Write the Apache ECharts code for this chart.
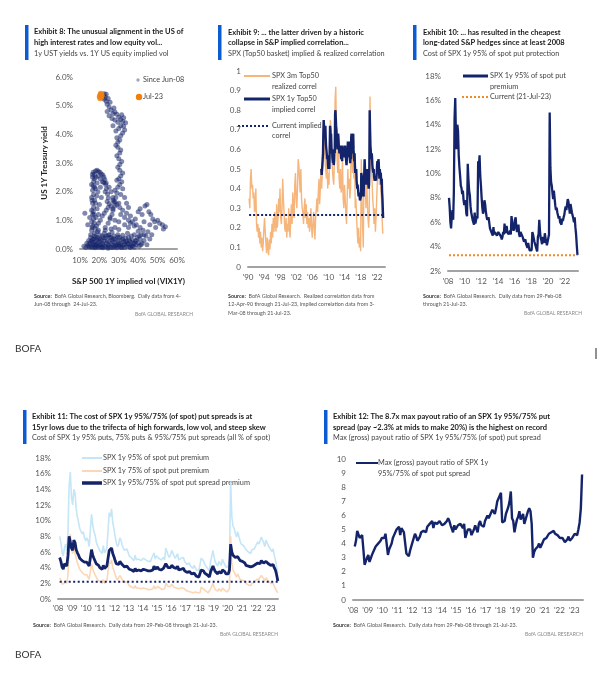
<!DOCTYPE html>
<html><head><meta charset="utf-8">
<script src="https://cdn.jsdelivr.net/npm/echarts@6/dist/echarts.min.js"></script>
<style>html,body{margin:0;padding:0;background:#fff}#c{width:607px;height:680px}</style>
</head><body><div id="c"></div><script>
// ---------- DATA ----------
// Exhibit 8: [S&P 500 1Y implied vol %, US 1Y Treasury yield %]
const SCATTER_SINCE_JUN08 = [
[12,0.1],[13,0.05],[13.5,0.2],[14,0.12],[14.5,0.3],[15,0.06],[15,0.18],[15.5,0.4],[16,0.1],[16,0.28],[16.5,0.05],[16.5,0.2],[17,0.14],[17,0.35],[17.5,0.08],[17.5,0.25],[18,0.04],[18,0.16],[18,0.42],[18.5,0.3],[19,0.08],[19,0.2],[19.5,0.35],[19.5,0.12],[20,0.05],[20,0.25],[20,0.5],[20.5,0.15],[21,0.08],[21,0.3],[21.5,0.2],[21.5,0.45],[22,0.04],[22,0.14],[22.5,0.28],[22.5,0.55],[23,0.1],[23,0.38],[23.5,0.2],[24,0.06],[24,0.3],[24.5,0.15],[24.5,0.48],[25,0.1],[25,0.25],[25.5,0.4],[26,0.05],[26,0.18],[26.5,0.32],[26.5,0.58],[27,0.12],[27,0.26],[27.5,0.45],[28,0.08],[28,0.2],[28.5,0.35],[29,0.04],[29,0.15],[29.5,0.28],[29.5,0.5],[30,0.1],[30,0.22],[30.5,0.4],[31,0.06],[31,0.18],[31.5,0.32],[32,0.12],[32,0.48],[32.5,0.25],[33,0.05],[33,0.16],[33.5,0.38],[34,0.1],[34,0.28],[34.5,0.55],[35,0.18],[35,0.4],[35.5,0.08],[36,0.25],[36.5,0.12],[36.5,0.45],[37,0.32],[37.5,0.18],[38,0.06],[38,0.5],[38.5,0.28],[39,0.15],[39.5,0.4],[40,0.22],[40,0.62],[40.5,0.1],[41,0.35],[41.5,0.5],[42,0.2],[42.5,0.65],[43,0.3],[44,0.45],[44.5,0.15],[45,0.6],[46,0.35],[47,0.5],[23,0.65],[26,0.7],[30,0.68],[35,0.75],[38,0.8],[28,0.75],[19.5,0.65],
[14.5,0.1],[15.5,0.25],[16.5,0.35],[17.5,0.45],[18.5,0.12],[19,0.4],[20.5,0.35],[21.5,0.06],[22,0.4],[23.5,0.45],[24.5,0.03],[25,0.5],[26,0.4],[27,0.05],[27.5,0.35],[28.5,0.12],[29.5,0.42],[30.5,0.15],[31.5,0.05],[32,0.35],[33.5,0.25],[34.5,0.18],[35.5,0.3],[36,0.05],[37,0.1],[38,0.2],[39,0.3],[40.5,0.45],[41.5,0.15],[43,0.5],
[15.5,0.5],[16,0.65],[16.5,0.8],[16,0.95],[17,1.05],[16.5,1.2],[16,1.35],[17,1.45],[16.5,1.6],[17.5,1.7],[16,1.8],[17,1.9],[16.5,2.05],[17.5,2.15],[16,2.25],[17,2.35],[16.5,2.5],[17.5,2.6],[16.8,2.68],[18,2.72],[18.8,2.75],[19.5,2.7],[20.3,2.68],[21,2.62],[21.8,2.58],[22.3,2.5],[22.8,2.42],[22.2,2.32],[23.2,2.25],[23.6,2.1],[23,2.0],[24.2,1.92],[24.6,1.78],[24,1.66],[25,1.58],[24.5,1.45],[23.5,1.35],[22.5,1.25],[21.5,1.15],[20.5,1.0],[19.5,0.9],[18.5,0.8],[17.8,0.72],[18.2,1.1],[18.8,1.4],[18,1.6],[18.6,1.85],[18,2.1],[18.8,2.3],[18.2,2.5],[19.5,2.55],[20.5,2.45],[19.5,1.2],[20,1.55],[21,1.8],[20.5,2.15],[21.5,2.35],[19.2,2.0],[17.5,0.55],[19,0.6],[12.5,1.25],[14,0.85],[15,1.1],
[16.2,0.75],[16.8,1.3],[16.2,1.7],[16.8,2.2],[16.4,2.6],[17.3,0.9],[17.4,2.45],[17.2,1.2],
[23.5,2.3],[25,2.15],[26,2.0],[25.5,1.1],[27,1.8],[28,1.65],[27,1.4],[29,1.55],[30.5,1.45],[31,1.2],[32,1.35],[33,1.1],[34,1.25],[35,1.0],[36,1.15],[37,0.95],[38.5,1.05],[40,1.3],[41,1.4],[42,1.2],[43.5,1.5],[44.5,1.55],[45.5,1.3],[46.5,1.2],[47.5,1.05],[48.5,0.95],[50,1.0],[51,0.9],[52.5,0.85],[54,0.78],[53,0.7],[49,0.75],[46,0.85],[43,0.95],[39,0.85],[36,0.9],[41,0.75],[30,0.95],[28,1.0],[33,0.85],
[23,0.75],[24.5,0.9],[25.5,1.05],[26.5,1.2],[27,1.35],[28,1.5],[27.5,1.65],[28.5,1.8],[29,1.95],[28,2.05],[29.5,2.15],[30.5,2.25],[31.5,2.35],[30,2.45],[31,2.55],[32,2.65],[30.5,2.75],[29.5,2.85],[30.5,2.95],[31.5,3.05],[30,3.15],[29,3.25],[30.5,3.35],[31,3.45],[29.5,3.55],[28.5,3.62],[29.5,3.72],[30.5,3.8],[29,3.88],[31,3.95],[32,4.05],[33,4.15],[32.5,4.28],[33.5,4.4],[32,4.45],[31,4.52],[30,4.6],[31.5,4.68],[32.5,4.58],[29,4.7],[28,4.78],[27,4.72],[26,4.85],[27.5,4.92],[25,4.95],[24,5.05],[25.5,5.12],[23.5,5.15],[24.5,5.25],[22.5,5.22],[23,5.3],[22,5.35],[21.5,5.28],[22.5,5.42],[23.5,5.4],[24,4.8],[25,4.65],[26.5,4.55],[28,4.5],[29.5,4.42],[27,4.3],[28.5,4.12],[30,4.2],[31,4.3],[26,1.5],[27,1.7],[29,2.4],[32,2.1],[33,1.8],[34,1.6],[35,1.45],[31,1.9],[30,1.6]
];
const SCATTER_JUL23 = [[20.2,5.32],[20.6,5.38],[21,5.3],[20.4,5.26],[21.2,5.36],[20.8,5.42]];

// Exhibit 9: realized correlation, every 2 months from Apr-90
const RC_START = 1990.28, RC_STEP = 1/6;
const REALIZED_CORREL = [
0.35,0.30,0.45,0.50,0.40,0.42, 0.35,0.38,0.28,0.30,0.40,0.22, 0.18,0.22,0.15,0.20,0.12,0.18,
0.10,0.15,0.08,0.12,0.20,0.25, 0.18,0.12,0.07,0.15,0.10,0.06, 0.14,0.09,0.18,0.12,0.22,0.15,
0.25,0.18,0.28,0.22,0.18,0.32, 0.20,0.25,0.35,0.28,0.40,0.25, 0.22,0.30,0.45,0.35,0.28,0.20,
0.18,0.25,0.15,0.22,0.18,0.30, 0.20,0.15,0.25,0.32,0.22,0.38, 0.30,0.25,0.42,0.48,0.35,0.30,
0.40,0.55,0.52,0.45,0.38,0.50, 0.35,0.30,0.28,0.22,0.30,0.35, 0.25,0.32,0.22,0.28,0.20,0.25,
0.18,0.22,0.30,0.20,0.15,0.22, 0.28,0.20,0.14,0.25,0.30,0.35, 0.28,0.38,0.45,0.32,0.40,0.50,
0.40,0.48,0.55,0.70,0.62,0.55, 0.50,0.45,0.55,0.40,0.48,0.42, 0.65,0.75,0.70,0.55,0.50,0.45,
0.42,0.55,0.85,0.92,0.70,0.55, 0.48,0.60,0.45,0.40,0.50,0.38, 0.40,0.55,0.35,0.30,0.42,0.35,
0.28,0.22,0.35,0.50,0.40,0.45, 0.35,0.40,0.65,0.55,0.48,0.60, 0.45,0.58,0.30,0.35,0.25,0.18,
0.12,0.20,0.10,0.15,0.08,0.55, 0.35,0.20,0.10,0.50,0.55,0.40, 0.30,0.45,0.35,0.25,0.20,0.30,
0.87,0.65,0.50,0.45,0.35,0.30, 0.22,0.30,0.18,0.25,0.35,0.45, 0.50,0.55,0.42,0.48,0.40,0.35,
0.25,0.17
];
// Exhibit 9: implied correlation, monthly from Mar-08
const IC_START = 2008.2, MONTH = 1/12;
const IMPLIED_CORREL = [
0.50,0.47,0.48,0.52,0.55,0.58,0.68,0.75,0.72,0.70,
0.68,0.70,0.72,0.66,0.62,0.60,0.58,0.55,0.57,0.55,0.52,0.50,
0.55,0.52,0.50,0.49,0.72,0.70,0.66,0.68,0.62,0.58,0.60,0.56,
0.55,0.53,0.58,0.52,0.54,0.60,0.58,0.78,0.80,0.76,0.72,0.70,
0.66,0.62,0.60,0.62,0.68,0.66,0.62,0.60,0.58,0.58,0.62,0.63,
0.58,0.55,0.56,0.57,0.54,0.62,0.58,0.60,0.58,0.57,0.56,0.55,
0.60,0.62,0.58,0.57,0.54,0.52,0.53,0.58,0.56,0.64,0.60,0.62,
0.64,0.60,0.58,0.55,0.53,0.58,0.55,0.66,0.68,0.62,0.58,0.60,
0.66,0.68,0.60,0.56,0.54,0.58,0.52,0.48,0.50,0.48,0.50,0.44,
0.42,0.40,0.42,0.40,0.38,0.36,0.35,0.38,0.36,0.34,0.33,0.35,
0.36,0.48,0.47,0.45,0.42,0.40,0.38,0.37,0.36,0.46,0.48,0.55,
0.50,0.46,0.44,0.42,0.48,0.46,0.43,0.50,0.48,0.45,0.42,0.40,
0.42,0.52,0.80,0.70,0.62,0.60,0.57,0.55,0.58,0.56,0.52,0.50,
0.50,0.48,0.50,0.46,0.47,0.44,0.45,0.43,0.46,0.44,0.46,0.48,
0.52,0.54,0.50,0.52,0.55,0.53,0.48,0.45,0.50,0.50,0.46,0.48,
0.45,0.42,0.45,0.38,0.35,0.30,0.25
];
const CURRENT_CORREL = 0.265;

// Exhibits 10-12: monthly from Feb-08 to Jul-23
const PUT_START = 2008.12;
const PUT95 = [
8.0,7.2,6.0,5.5,6.5,7.0,6.2,8.5,14.5,16.2,13.0,
12.0,14.0,13.5,11.5,10.5,9.8,9.0,8.8,8.3,8.6,7.8,7.4,
7.8,7.5,6.7,6.5,10.8,9.5,8.6,8.2,7.3,6.8,6.9,6.2,
6.0,5.8,6.8,5.9,6.0,6.5,6.3,11.0,10.5,11.5,9.8,9.0,
8.0,7.2,6.7,7.0,7.8,7.5,6.9,6.5,6.2,6.1,6.4,6.3,
5.5,5.4,5.2,5.1,4.9,5.6,5.0,5.2,5.1,5.3,4.9,4.9,
5.2,5.3,5.0,5.1,4.8,4.6,4.8,5.2,5.0,5.9,5.1,5.5,
5.7,5.2,5.3,5.0,4.9,5.3,5.0,6.5,6.6,5.6,5.3,5.6,
6.2,6.4,5.5,5.2,5.3,5.8,5.0,4.8,5.2,5.1,5.3,4.8,
4.6,4.4,4.5,4.6,4.2,4.1,3.9,4.3,4.0,3.7,3.6,3.6,
3.7,5.2,5.0,4.9,4.4,4.3,4.0,3.8,3.6,4.8,5.0,6.2,
5.3,4.7,4.5,4.2,4.8,4.6,4.3,5.1,4.7,4.6,4.1,4.0,
4.1,5.0,15.0,10.5,9.3,9.0,8.4,7.9,8.6,8.5,7.4,7.0,
7.2,6.8,6.9,6.3,6.5,6.0,6.1,5.8,6.3,6.1,6.4,6.6,
7.0,7.3,7.0,7.1,7.9,7.7,7.2,6.7,7.5,7.6,6.8,6.9,
6.3,6.0,6.4,5.6,5.0,4.1,3.3
];
const PUT95_CURRENT = 3.3;
const PUT75 = [
2.7,2.4,1.9,1.7,2.0,2.3,2.0,3.0,6.5,8.3,6.5,
5.8,6.5,6.3,5.2,4.6,4.2,3.8,3.6,3.4,3.5,3.1,2.9,
3.1,2.9,2.5,2.4,4.5,3.9,3.4,3.2,2.8,2.5,2.6,2.2,
2.1,2.0,2.5,2.0,2.1,2.3,2.2,4.8,4.5,5.0,4.0,3.6,
3.1,2.7,2.4,2.6,3.0,2.8,2.5,2.3,2.1,2.0,2.2,2.1,
1.7,1.6,1.5,1.5,1.4,1.7,1.4,1.5,1.4,1.5,1.3,1.3,
1.4,1.5,1.3,1.4,1.2,1.1,1.2,1.4,1.3,1.7,1.3,1.5,
1.6,1.4,1.4,1.3,1.2,1.4,1.3,2.0,2.1,1.6,1.4,1.6,
1.9,2.0,1.5,1.4,1.4,1.6,1.3,1.2,1.4,1.3,1.4,1.2,
1.1,1.0,1.0,1.1,0.9,0.9,0.8,1.0,0.9,0.8,0.8,0.8,
0.8,1.5,1.4,1.3,1.1,1.0,0.9,0.8,0.8,1.3,1.4,2.0,
1.5,1.2,1.1,1.0,1.3,1.2,1.0,1.4,1.2,1.1,0.9,0.9,
0.9,1.3,8.0,4.5,3.7,3.5,3.1,2.8,3.2,3.1,2.5,2.3,
2.4,2.2,2.3,2.0,2.1,1.8,1.9,1.7,2.0,1.9,2.1,2.2,
2.5,2.7,2.5,2.6,3.0,2.9,2.6,2.3,2.7,2.8,2.3,2.3,
2.0,1.8,2.0,1.6,1.3,1.0,0.8
];
const SPREAD = [
5.3,4.8,4.1,3.8,4.5,4.7,4.2,5.5,8.0,7.9,6.5,
6.2,7.5,7.2,6.3,5.9,5.6,5.2,5.2,4.9,5.1,4.7,4.5,
4.7,4.6,4.2,4.1,6.3,5.6,5.2,5.0,4.5,4.3,4.3,4.0,
3.9,3.8,4.3,3.9,3.9,4.2,4.1,6.2,6.0,6.5,5.8,5.4,
4.9,4.5,4.3,4.4,4.8,4.7,4.4,4.2,4.1,4.1,4.2,4.2,
3.8,3.8,3.7,3.6,3.5,3.9,3.6,3.7,3.7,3.8,3.6,3.6,
3.8,3.8,3.7,3.7,3.6,3.5,3.6,3.8,3.7,4.2,3.8,4.0,
4.1,3.8,3.9,3.7,3.7,3.9,3.7,4.5,4.5,4.0,3.9,4.0,
4.3,4.4,4.0,3.8,3.9,4.2,3.7,3.6,3.8,3.8,3.9,3.6,
3.5,3.4,3.5,3.5,3.3,3.2,3.1,3.3,3.1,2.9,2.8,2.8,
2.9,3.7,3.6,3.6,3.3,3.3,3.1,3.0,2.8,3.5,3.6,4.2,
3.8,3.5,3.4,3.2,3.5,3.4,3.3,3.7,3.5,3.5,3.2,3.1,
3.2,3.7,7.0,6.0,5.6,5.5,5.3,5.1,5.4,5.4,4.9,4.7,
4.8,4.6,4.6,4.3,4.4,4.2,4.2,4.1,4.3,4.2,4.3,4.4,
4.5,4.6,4.5,4.5,4.9,4.8,4.6,4.4,4.8,4.8,4.5,4.6,
4.3,4.2,4.4,4.0,3.7,3.1,2.3
];
const SPREAD_CURRENT = 2.2;
const PAYOUT = [
3.8,4.2,4.9,4.8,4.4,4.3,4.6,3.6,2.5,2.6,3.0,
3.2,2.7,2.8,3.2,3.4,3.6,3.8,3.8,4.0,3.9,4.2,4.4,
4.3,4.4,4.7,4.8,3.2,3.6,3.8,4.0,4.4,4.6,4.6,5.0,
5.1,5.2,4.6,5.1,5.1,4.8,4.9,3.3,3.4,3.1,3.5,3.8,
4.1,4.4,4.7,4.5,4.2,4.3,4.5,4.8,4.9,4.9,4.8,4.8,
5.2,5.3,5.4,5.5,5.6,5.1,5.5,5.4,5.4,5.3,5.6,5.6,
5.3,5.3,5.4,5.5,5.6,5.8,5.6,5.3,5.4,4.8,5.3,5.0,
4.9,5.3,5.2,5.4,5.4,5.1,5.4,4.4,4.5,5.0,5.1,5.0,
4.6,4.5,5.0,5.3,5.2,4.8,5.4,5.6,5.3,5.3,5.2,5.6,
5.8,6.0,5.8,5.8,6.2,6.4,6.5,6.1,6.5,7.0,7.2,7.3,
7.6,5.5,5.6,5.6,6.1,6.1,6.6,7.0,7.7,5.8,5.6,4.8,
5.3,5.7,5.9,6.3,5.7,5.9,6.1,5.4,5.7,5.7,6.3,6.5,
6.3,5.4,3.0,3.4,3.6,3.7,3.8,4.0,3.7,3.7,4.1,4.3,
4.2,4.4,4.4,4.7,4.6,4.8,4.8,4.9,4.7,4.8,4.6,4.5,
4.4,4.3,4.4,4.4,4.1,4.2,4.3,4.5,4.2,4.2,4.4,4.4,
4.7,4.8,4.6,5.0,5.5,6.5,8.9
];
const YEARS_EX9 = [1990,1994,1998,2002,2006,2010,2014,2018,2022];
const YEARS_EX10 = [2008,2010,2012,2014,2016,2018,2020,2022];
const YEARS_EX11 = [2008,2009,2010,2011,2012,2013,2014,2015,2016,2017,2018,2019,2020,2021,2022,2023];

// ---------- HELPERS ----------
const FONT = 'Lato, "Open Sans", sans-serif';
const NAVY = '#14246a';
const BLUE = '#0b5bd3';
const ser = (arr, start, step) => arr.map((v, i) => [start + i * step, v]);
const yy = v => "'" + String(v).slice(2);

function xAx(gi, min, max, ticks, fmt, margin, extra) {
  return Object.assign({type:'value', gridIndex:gi, min, max, splitLine:{show:false}, axisTick:{show:false},
    axisLine:{show:true, onZero:false, lineStyle:{color:'#a3a3a3', width:2}},
    axisLabel:{customValues:ticks || undefined, formatter:fmt, color:'#555', fontSize:8, fontFamily:FONT, margin:margin}}, extra || {});
}
function yAx(gi, min, max, interval, fmt, extra) {
  return Object.assign({type:'value', gridIndex:gi, min, max, interval, splitLine:{show:false}, axisTick:{show:false},
    axisLine:{show:false}, axisLabel:{formatter:fmt, color:'#555', fontSize:8, fontFamily:FONT, margin:7}}, extra || {});
}
function T(x, y, text, kind, align) {
  const st = {
    title:{fontSize:7.5, fontWeight:'bold', fill:'#1a1a1a'},
    sub:{fontSize:7.3, fontWeight:'normal', fill:'#444'},
    leg:{fontSize:7.3, fontWeight:'normal', fill:'#444'},
    src:{fontSize:5.4, fontWeight:'normal', fill:'#555'},
    brand:{fontSize:5, fontWeight:'normal', fill:'#888'},
    bofa:{fontSize:10, fontWeight:'normal', fill:'#333'}
  }[kind];
  return {type:'text', x, y, silent:true, style:Object.assign({text, fontFamily:FONT, align:align || 'left', verticalAlign:'middle',
    rich:{b:{fontWeight:'bold', fontSize:st.fontSize, fill:'#333', fontFamily:FONT}}}, st)};
}
const bar = (x, y, h) => ({type:'rect', shape:{x, y, width:3.5, height:h}, style:{fill:BLUE}, silent:true});
const seg = (x1, x2, y, color, w, dash) => ({type:'line', shape:{x1, y1:y, x2, y2:y}, silent:true,
  style:{stroke:color, lineWidth:w, lineDash:dash || null}});

const graphic = [
  // Exhibit 8
  bar(25, 25, 35),
  T(34, 32, 'Exhibit 8: The unusual alignment in the US of', 'title'),
  T(34, 43, 'high interest rates and low equity vol...', 'title'),
  T(34, 53.5, '1y UST yields vs. 1Y US equity implied vol', 'sub'),
  {type:'circle', shape:{cx:138, cy:80, r:1.7}, style:{fill:'rgba(20,36,106,0.4)'}, silent:true},
  T(143, 80, 'Since Jun-08', 'leg'),
  {type:'circle', shape:{cx:139, cy:97, r:3.2}, style:{fill:'#f07f0f'}, silent:true},
  T(143, 97, 'Jul-23', 'leg'),
  T(34, 296, '{b|Source:}  BofA Global Research, Bloomberg.  Daily data from 4-', 'src'),
  T(34, 304, 'Jun-08 through  24-Jul-23.', 'src'),
  T(193, 314, 'BofA GLOBAL RESEARCH', 'brand', 'right'),
  T(15, 349, 'BOFA', 'bofa'),
  // Exhibit 9
  bar(218, 25, 35),
  T(228, 33, 'Exhibit 9: ... the latter driven by a historic', 'title'),
  T(228, 43, 'collapse in S&P implied correlation...', 'title'),
  T(228, 53.5, 'SPX (Top50 basket) implied & realized correlation', 'sub'),
  seg(244, 270, 76, '#f6b57b', 2),
  T(272, 76, 'SPX 3m Top50', 'leg'), T(272, 87, 'realized correl', 'leg'),
  seg(244, 270, 99, NAVY, 3),
  T(272, 99, 'SPX 1y Top50', 'leg'), T(272, 110, 'implied correl', 'leg'),
  seg(238, 270, 126, NAVY, 2, [2, 2]),
  T(272, 126, 'Current implied', 'leg'), T(272, 136, 'correl', 'leg'),
  T(228, 296, '{b|Source:}  BofA Global Research.  Realized correlation data from', 'src'),
  T(228, 304, '12-Apr-90 through 21-Jul-23, implied correlation data from 3-', 'src'),
  T(228, 313, 'Mar-08 through 21-Jul-23.', 'src'),
  // Exhibit 10
  bar(413, 25, 35),
  T(423, 33, 'Exhibit 10: ... has resulted in the cheapest', 'title'),
  T(423, 43, 'long-dated S&P hedges since at least 2008', 'title'),
  T(423, 54, 'Cost of SPX 1y 95% of spot put protection', 'sub'),
  seg(463, 488, 76, NAVY, 3),
  T(490, 76, 'SPX 1y 95% of spot put', 'leg'), T(490, 87, 'premium', 'leg'),
  seg(462, 488, 97, '#f08a24', 2, [2, 2]),
  T(490, 97, 'Current (21-Jul-23)', 'leg'),
  T(423, 296, '{b|Source:}  BofA Global Research.  Daily data from 29-Feb-08', 'src'),
  T(423, 304, 'through 21-Jul-23.', 'src'),
  T(582, 313, 'BofA GLOBAL RESEARCH', 'brand', 'right'),
  {type:'line', shape:{x1:596, y1:348, x2:596, y2:359}, style:{stroke:'#222', lineWidth:1}, silent:true},
  // Exhibit 11
  bar(23, 410, 34),
  T(32, 417, 'Exhibit 11: The cost of SPX 1y 95%/75% (of spot) put spreads is at', 'title'),
  T(32, 427.5, '15yr lows due to the trifecta of high forwards, low vol, and steep skew', 'title'),
  T(32, 438, 'Cost of SPX 1y 95% puts, 75% puts & 95%/75% put spreads (all % of spot)', 'sub'),
  seg(82, 102, 458, '#c5e6f7', 2),
  T(103, 458, 'SPX 1y 95% of spot put premium', 'leg'),
  seg(82, 102, 471, '#fbd7b5', 2),
  T(103, 471, 'SPX 1y 75% of spot put premium', 'leg'),
  seg(82, 102, 483, NAVY, 3.5),
  T(103, 483, 'SPX 1y 95%/75% of spot put spread premium', 'leg'),
  T(33, 625, '{b|Source:}  BofA Global Research.  Daily data from 29-Feb-08 through 21-Jul-23.', 'src'),
  T(278, 634, 'BofA GLOBAL RESEARCH', 'brand', 'right'),
  T(15, 655, 'BOFA', 'bofa'),
  // Exhibit 12
  bar(324, 410, 34),
  T(333, 417, 'Exhibit 12: The 8.7x max payout ratio of an SPX 1y 95%/75% put', 'title'),
  T(333, 427.5, 'spread (pay ~2.3% at mids to make 20%) is the highest on record', 'title'),
  T(333, 438, 'Max (gross) payout ratio of SPX 1y 95%/75% (of spot) put spread', 'sub'),
  seg(356, 378, 463, NAVY, 2),
  T(378, 463, 'Max (gross) payout ratio of SPX 1y', 'leg'),
  T(378, 474, '95%/75% of spot put spread', 'leg'),
  T(333, 625, '{b|Source:}  BofA Global Research.  Daily data from 29-Feb-08 through 21-Jul-23.', 'src'),
  T(583, 634, 'BofA GLOBAL RESEARCH', 'brand', 'right')
];

const lastX = (arr, start, step) => start + (arr.length - 1) * step;

const option = {
  animation:false,
  backgroundColor:'#fff',
  grid:[
    {left:80, top:77, width:97, height:172},
    {left:248, top:71, width:137, height:196},
    {left:448, top:76, width:130, height:195},
    {left:58, top:458, width:220, height:141},
    {left:353, top:459, width:230, height:141}
  ],
  xAxis:[
    xAx(0, 10, 60, null, v => v + '%', 7, {interval:10,
      name:'S&P 500 1Y implied vol (VIX1Y)', nameLocation:'middle', nameGap:28,
      nameTextStyle:{fontFamily:FONT, fontSize:8, fontWeight:'bold', color:'#222'}}),
    xAx(1, 1990, 2024, YEARS_EX9, yy, 6),
    xAx(2, 2008, 2023.6, YEARS_EX10, yy, 6),
    xAx(3, 2008, 2023.55, YEARS_EX11, yy, 5),
    xAx(4, 2008, 2023.6, YEARS_EX11, yy, 6)
  ],
  yAxis:[
    yAx(0, 0, 6, 1, v => v.toFixed(1) + '%', {name:'US 1Y Treasury yield', nameLocation:'middle', nameGap:32, nameRotate:90,
      nameTextStyle:{fontFamily:FONT, fontSize:8, fontWeight:'bold', color:'#222'}}),
    yAx(1, 0, 1, 0.1, null),
    yAx(2, 2, 18, 2, v => v + '%'),
    yAx(3, 0, 18, 2, v => v + '%'),
    yAx(4, 0, 10, 1, null)
  ],
  graphic,
  series:[
    {type:'scatter', xAxisIndex:0, yAxisIndex:0, data:SCATTER_SINCE_JUN08, symbolSize:5,
      itemStyle:{color:'rgba(20,36,106,0.68)'}},
    {type:'scatter', xAxisIndex:0, yAxisIndex:0, data:SCATTER_JUL23, symbolSize:6, itemStyle:{color:'#f07f0f'}},

    {type:'line', xAxisIndex:1, yAxisIndex:1, data:ser(REALIZED_CORREL, RC_START, RC_STEP), showSymbol:false,
      lineStyle:{color:'#f6b57b', width:1.4}},
    {type:'line', xAxisIndex:1, yAxisIndex:1, data:ser(IMPLIED_CORREL, IC_START, MONTH), showSymbol:false,
      lineStyle:{color:NAVY, width:2.4}},
    {type:'line', xAxisIndex:1, yAxisIndex:1, data:[[RC_START, CURRENT_CORREL],[lastX(IMPLIED_CORREL, IC_START, MONTH), CURRENT_CORREL]],
      showSymbol:false, lineStyle:{color:NAVY, width:2, type:[2,2]}},

    {type:'line', xAxisIndex:2, yAxisIndex:2, data:ser(PUT95, PUT_START, MONTH), showSymbol:false,
      lineStyle:{color:NAVY, width:2.3}},
    {type:'line', xAxisIndex:2, yAxisIndex:2, data:[[PUT_START, PUT95_CURRENT],[lastX(PUT95, PUT_START, MONTH), PUT95_CURRENT]],
      showSymbol:false, lineStyle:{color:'#f08a24', width:2, type:[2,2]}},

    {type:'line', xAxisIndex:3, yAxisIndex:3, data:ser(PUT95, PUT_START, MONTH), showSymbol:false,
      lineStyle:{color:'#c5e6f7', width:1.6}},
    {type:'line', xAxisIndex:3, yAxisIndex:3, data:ser(PUT75, PUT_START, MONTH), showSymbol:false,
      lineStyle:{color:'#fbd7b5', width:1.6}},
    {type:'line', xAxisIndex:3, yAxisIndex:3, data:ser(SPREAD, PUT_START, MONTH), showSymbol:false,
      lineStyle:{color:NAVY, width:2.8}},
    {type:'line', xAxisIndex:3, yAxisIndex:3, data:[[PUT_START, SPREAD_CURRENT],[lastX(SPREAD, PUT_START, MONTH), SPREAD_CURRENT]],
      showSymbol:false, lineStyle:{color:NAVY, width:2, type:[2,2.5]}},

    {type:'line', xAxisIndex:4, yAxisIndex:4, data:ser(PAYOUT, PUT_START, MONTH), showSymbol:false,
      lineStyle:{color:NAVY, width:2.4}}
  ]
};
const chart = echarts.init(document.getElementById('c'), null, {renderer:'canvas'});
chart.setOption(option);
</script></body></html>
